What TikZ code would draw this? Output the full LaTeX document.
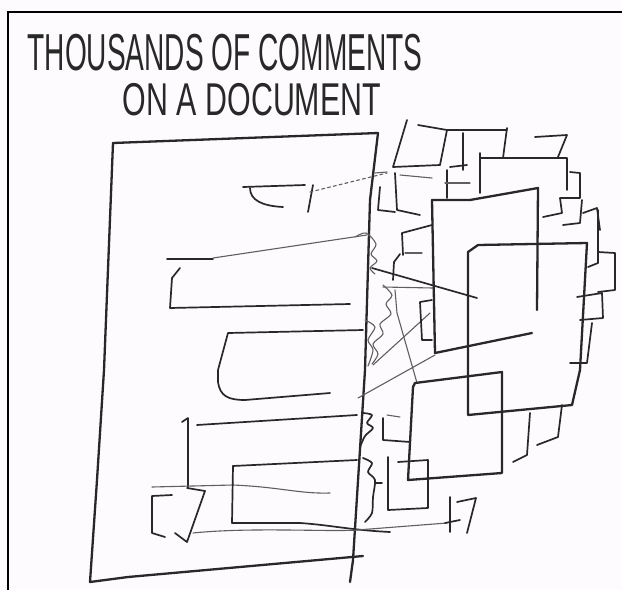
\documentclass[tikz,border=0pt]{standalone}
\usepackage{fontspec}
\setmainfont{Liberation Sans}
\usepackage{xcolor}
\definecolor{paper}{RGB}{253,251,253}
\definecolor{inkgray}{RGB}{40,40,40}
\definecolor{softgray}{RGB}{95,95,95}
\tikzset{
  frame/.style={line width=2.6pt, black},
  ink/.style={line width=2.3pt, inkgray, line join=round, line cap=round},
  pen/.style={line width=1.7pt, inkgray, line join=round, line cap=round},
  fine/.style={line width=1.1pt, softgray, line join=round, line cap=round},
  hand/.style={inner sep=0pt, inkgray}
}

\begin{document}
\begin{tikzpicture}[x=1pt, y=-1pt]

% Background
\fill[paper] (0,0) rectangle (622,590);
\useasboundingbox (0,0) rectangle (622,590);
\draw[frame] (8,590) -- (8,12) -- (622,12);

% Title
\node[hand, font=\fontsize{52}{52}\selectfont, xscale=0.54] (title1) at (225,53) {THOUSANDS OF COMMENTS};
\node[hand, font=\fontsize{46}{46}\selectfont, xscale=0.66] (title2) at (252,100) {ON A DOCUMENT};

% Document
\draw[ink] (113,143) -- (378,133);
\draw[ink] (113,143) -- (104,370) -- (97,480) -- (90,582) -- (128,577) -- (363,556);
\draw[ink] (378,133) -- (370,200) -- (365,370) -- (353,560) -- (350,582);

% Comments inside the document
\draw[pen] (243,187) -- (305,185);
\draw[pen] (250,188) .. controls (250,200) and (262,206) .. (283,207);
\draw[pen] (313,185) -- (308,212);
\draw[fine, dashed] (310,192) -- (387,173);
\draw[pen] (167,259) -- (213,259);
\draw[fine] (213,258) -- (367,235);
\draw[pen] (180,268) -- (172,278) -- (170,308) -- (350,304);
\draw[pen] (363,330) -- (228,333) -- (218,370) -- (218,382) .. controls (220,396) and (228,400) .. (245,400) -- (330,393);
\draw[pen] (182,422) -- (188,418) -- (188,488);
\draw[pen] (197,425) -- (357,415);
\draw[pen] (172,495) -- (152,496) -- (152,533) -- (165,537);
\draw[fine] (152,487) -- (233,485) .. controls (280,487) and (300,494) .. (330,493);
\draw[pen] (187,488) -- (205,491) -- (187,542) -- (175,533);
\draw[pen] (233,466) -- (357,460);
\draw[pen] (233,466) -- (232,523) -- (300,523) .. controls (330,525) and (350,530) .. (390,532);
\draw[fine] (193,533) .. controls (250,527) and (330,532) .. (357,530) -- (447,523);

% Squiggles along the edge
\draw[fine] plot[smooth] coordinates {(355,237) (366,233) (376,244) (371,254) (377,261) (370,268) (375,274)};
\draw[fine] plot[smooth] coordinates {(383,285) (392,295) (386,304) (391,314) (380,324) (383,334) (373,344) (378,354) (372,364)};
\draw[fine] plot[smooth] coordinates {(365,320) (375,327) (368,340) (373,350) (368,366)};
\draw[pen] plot[smooth] coordinates {(363,413) (372,415) (367,423) (373,428) (365,436) (360,447)};
\draw[pen] plot[smooth] coordinates {(363,458) (372,463) (368,472) (375,480) (373,497) (372,513) (365,522)};
\draw[pen] (375,483) -- (382,483);

% Lines out of the document
\draw[pen] (372,268) -- (477,298);
\draw[fine] (373,365) -- (430,313);
\draw[fine] (358,398) -- (435,355);
\draw[fine] (395,290) -- (397,313) -- (417,383);
\draw[fine] (383,287) -- (433,288);

% Upper cluster of comments
\draw[pen] (407,120) -- (393,167) -- (440,165);
\draw[pen] (418,125) -- (447,130) -- (507,130);
\draw[pen] (447,130) -- (440,165);
\draw[pen] (463,133) -- (463,170);
\draw[pen] (450,167) -- (467,165);
\draw[pen] (507,128) -- (503,158);
\draw[pen] (535,137) -- (567,135) -- (558,157);
\draw[pen] (480,153) -- (480,193);
\draw[pen] (480,158) -- (567,158) -- (567,190);
\draw[pen] (570,172) -- (580,173) -- (580,198) -- (560,198) -- (562,213) -- (543,217);
\draw[pen] (583,213) -- (597,208) -- (600,230);
\draw[pen] (447,170) -- (447,198);
\draw[fine] (445,183) -- (470,183);
\draw[fine] (375,173) -- (387,172);
\draw[fine] (400,175) -- (432,178);
\draw[pen] (380,187) -- (378,210) -- (395,212);
\draw[pen] (395,173) -- (397,210) -- (420,215);

% Brackets left of the squares
\draw[pen] (432,225) -- (402,233) -- (403,255);
\draw[fine] (405,253) -- (422,253);
\draw[pen] (400,254) -- (394,262) -- (393,280);
\draw[pen] (432,300) -- (420,302) -- (422,340) -- (432,340);

% Right cluster
\draw[pen] (563,225) -- (580,223) -- (582,200);
\draw[pen] (598,210) -- (598,263) -- (588,267);
\draw[pen] (598,252) -- (615,253) -- (615,290) -- (598,292);
\draw[pen] (577,297) -- (602,293) -- (603,318) -- (580,320);
\draw[pen] (592,323) -- (587,363) -- (570,363);

% Big comment squares
\draw[ink] (432,200) -- (470,200) -- (538,188) -- (537,310);
\draw[ink] (432,200) -- (435,353) -- (532,333);
\draw[ink] (468,415) -- (468,252) -- (478,245) -- (587,243) -- (580,370) -- (572,405) -- (468,415);
\draw[ink] (413,387) -- (415,383) -- (502,372) -- (502,473) -- (408,480) -- (413,387);
\draw[pen] (398,462) -- (428,460) -- (428,508) -- (388,510) -- (388,457);

% Small brackets below
\draw[pen] (383,418) -- (383,440) -- (410,442);
\draw[fine] (387,415) -- (400,417);
\draw[pen] (530,413) -- (527,455) -- (513,462);
\draw[pen] (562,405) -- (558,437) -- (537,445);
\draw[pen] (450,497) -- (450,532);
\draw[pen] (457,502) -- (476,498) -- (467,533);
\draw[pen] (445,523) -- (460,520);

\end{tikzpicture}
\end{document}
